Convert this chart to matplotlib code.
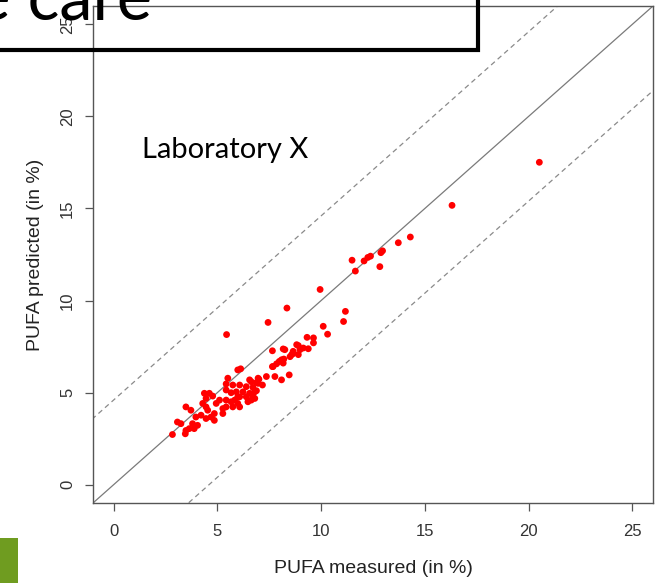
import matplotlib
matplotlib.use("Agg")
import matplotlib.pyplot as plt
from matplotlib import patches
import numpy as np

# PUFA measured vs predicted (in %)
pufa_measured = [20.52, 16.31, 14.30, 13.72, 12.96, 12.88, 12.83, 12.38, 12.25, 12.07,
                 11.49, 11.65, 9.95, 11.17, 11.08, 10.10, 8.35, 7.44, 5.44, 10.31,
                 9.32, 9.63, 8.90, 9.63, 9.38, 8.98, 8.63, 7.65, 8.17, 8.50,
                 8.90, 7.98, 8.20, 7.65, 7.85, 6.12, 8.46, 7.36, 7.77, 8.09,
                 5.50, 5.42, 6.55, 6.88, 7.00, 5.74, 6.07, 6.39, 6.71, 6.88,
                 7.17, 4.37, 4.61, 4.77, 4.45, 5.42, 5.66, 5.91, 6.23, 6.55,
                 6.71, 6.80, 6.39, 6.63, 6.80, 6.47, 5.10, 5.42, 5.66, 4.94,
                 5.98, 5.98, 4.29, 4.45, 4.53, 5.42, 5.74, 6.07, 3.48, 3.72,
                 4.85, 4.69, 5.26, 3.96, 4.21, 4.45, 4.85, 3.07, 3.24, 3.80,
                 4.04, 3.64, 3.48, 3.88, 2.83, 3.45, 8.82, 9.14, 8.65, 8.58,
                 8.25, 8.09, 7.68, 8.17, 6.96, 6.63, 6.96, 5.98, 5.83, 5.26,
                 6.07]
pufa_predicted = [17.51, 15.17, 13.45, 13.14, 12.70, 12.60, 11.84, 12.41, 12.34, 12.15,
                  12.19, 11.60, 10.60, 9.41, 8.86, 8.60, 9.59, 8.81, 8.15, 8.17,
                  8.00, 7.97, 7.55, 7.70, 7.38, 7.33, 7.11, 7.27, 7.37, 6.95,
                  7.06, 6.69, 6.82, 6.41, 6.56, 6.29, 5.96, 5.87, 5.87, 5.69,
                  5.78, 5.47, 5.69, 5.54, 5.72, 5.41, 5.41, 5.32, 5.28, 5.10,
                  5.41, 4.96, 4.96, 4.81, 4.68, 5.14, 4.99, 5.04, 5.04, 4.96,
                  4.77, 5.04, 4.77, 4.59, 4.68, 4.50, 4.59, 4.59, 4.50, 4.41,
                  4.77, 4.41, 4.41, 4.22, 4.04, 4.22, 4.22, 4.22, 4.22, 4.04,
                  3.86, 3.67, 3.86, 3.67, 3.77, 3.59, 3.49, 3.40, 3.31, 3.31,
                  3.22, 3.04, 2.94, 3.04, 2.72, 2.76, 7.60, 7.42, 7.24, 7.06,
                  7.33, 6.78, 6.41, 6.60, 5.78, 5.59, 5.50, 6.23, 4.59, 4.13,
                  4.77]
band = 4.6  # offset of the dashed lines
ticks = [0, 5, 10, 15, 20, 25]

fig = plt.figure(figsize=(6.58, 5.83), dpi=100)
ax = fig.add_axes([93/658, 1 - 503/583, 560/658, 497/583])

ax.set_xlim(-1, 26)
ax.set_ylim(-1, 26)

ref = np.array([-2, 28])
ax.plot(ref, ref, color="#7a7a7a", lw=0.9)
ax.plot(ref, ref + band, color="#8a8a8a", lw=0.9, ls=(0, (4, 3)))
ax.plot(ref, ref - band, color="#8a8a8a", lw=0.9, ls=(0, (4, 3)))

ax.scatter(pufa_measured, pufa_predicted, s=24, color="#ff0000", edgecolors="none", zorder=3)

for s in ax.spines.values():
    s.set_color("#555555")
    s.set_linewidth(1.0)

ax.set_xticks(ticks)
ax.set_yticks(ticks)
ax.tick_params(direction="out", length=6, width=0.9, color="#555555",
               labelcolor="#333333", labelsize=12, pad=8)
ax.tick_params(axis="x", pad=9)
ax.tick_params(axis="y", pad=7)
for lab in ax.get_xticklabels() + ax.get_yticklabels():
    lab.set_family("Liberation Sans")
for lab in ax.get_yticklabels():
    lab.set_rotation(90)
    lab.set_va("center")

ax.set_xlabel("PUFA measured (in %)", fontsize=14, family="Liberation Sans", color="#222222")
ax.set_ylabel("PUFA predicted (in %)", fontsize=14, family="Liberation Sans", color="#222222")
ax.xaxis.set_label_coords(0.5, -0.115)
ax.yaxis.set_label_coords(-0.087, 0.5)

ax.text(142.5/658, 1 - 158/583, "Laboratory X", transform=fig.transFigure,
        fontsize=21, family="Lato", va="baseline", ha="left")

# slide overlay: cut off title box and green marker
fig.text(152/658, 1 - 19/583, "Take care", fontsize=48, family="Lato",
         ha="right", va="baseline", color="black")
fig.add_artist(patches.Rectangle((-0.02, 1 - 50/583), 478/658 + 0.02, 0.2,
                                 transform=fig.transFigure, fill=False,
                                 edgecolor="black", lw=3))
fig.add_artist(patches.Rectangle((0, 0), 18/658, 45/583, transform=fig.transFigure,
                                 facecolor="#6f9c20", edgecolor="none"))

fig.savefig("out.png", dpi=100)
